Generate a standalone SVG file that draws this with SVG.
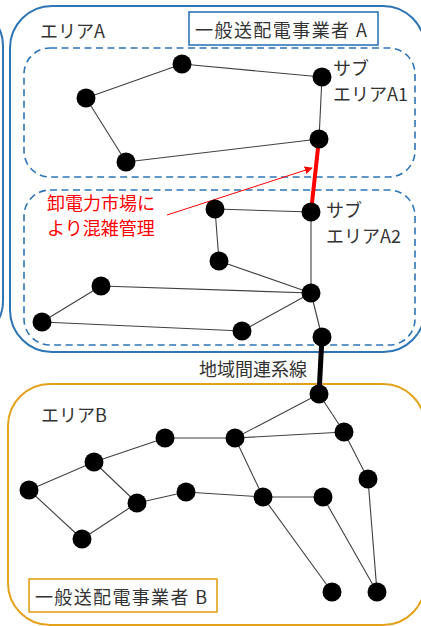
<svg xmlns="http://www.w3.org/2000/svg" width="421" height="626" viewBox="0 0 421 626">
<style>
.area{fill:none;stroke:#2E75B6;stroke-width:2}
.sub{fill:none;stroke:#2E75B6;stroke-width:1.6;stroke-dasharray:7 4.5}
.areaB{fill:none;stroke:#E3A21A;stroke-width:2}
.e{stroke:#404040;stroke-width:1.1;fill:none}
.n{fill:#000}
.t{font-family:"Noto Sans CJK JP","Noto Sans",sans-serif;font-size:18px;fill:#333}
.r{font-family:"Noto Sans CJK JP","Noto Sans",sans-serif;font-size:18px;fill:#FF0000}
</style>
<defs>
<marker id="ah" viewBox="0 0 10 10" refX="9" refY="5" markerWidth="8" markerHeight="8" markerUnits="userSpaceOnUse" orient="auto">
<path d="M0,0 L10,5 L0,10 z" fill="#FF0000"/>
</marker>
</defs>
<g id="areaLeft"><rect x="-300" y="6" width="303" height="335" rx="40" class="area"/></g>
<g id="areaA">
<rect x="10" y="6" width="415" height="346" rx="42" class="area"/>
<text x="40" y="38" class="t">エリアA</text>
</g>
<g id="operatorA">
<rect x="189" y="12" width="189" height="33" fill="#fff" stroke="#2E75B6" stroke-width="1.6"/>
<text x="195" y="37" class="t" font-size="19" textLength="172" lengthAdjust="spacing">一般送配電事業者 A</text>
</g>
<g id="subA1">
<rect x="24" y="48" width="391" height="129" rx="26" class="sub"/>
<text x="333" y="75" class="t">サブ</text>
<text x="333" y="101" class="t">エリアA1</text>
</g>
<g id="subA2">
<rect x="24" y="190" width="391" height="155" rx="26" class="sub"/>
<text x="326" y="217" class="t">サブ</text>
<text x="326" y="243" class="t">エリアA2</text>
</g>
<g id="areaB">
<rect x="8" y="384" width="417" height="241" rx="42" class="areaB"/>
<text x="41" y="422" class="t">エリアB</text>
</g>
<g id="operatorB">
<rect x="29" y="579" width="188" height="33" fill="#fff" stroke="#E3A21A" stroke-width="1.6"/>
<text x="35" y="604" class="t" font-size="19" textLength="172" lengthAdjust="spacing">一般送配電事業者 B</text>
</g>
<g id="connectors">
<!-- A1 -->
<line x1="86" y1="98" x2="182" y2="64" class="e"/>
<line x1="182" y1="64" x2="322" y2="77" class="e"/>
<line x1="322" y1="77" x2="319" y2="139" class="e"/>
<line x1="319" y1="139" x2="126" y2="162" class="e"/>
<line x1="126" y1="162" x2="86" y2="98" class="e"/>
<!-- A2 -->
<line x1="215" y1="209" x2="311" y2="212" class="e"/>
<line x1="215" y1="209" x2="219" y2="261" class="e"/>
<line x1="219" y1="261" x2="311" y2="293" class="e"/>
<line x1="311" y1="212" x2="311" y2="293" class="e"/>
<line x1="101" y1="286" x2="311" y2="293" class="e"/>
<line x1="101" y1="286" x2="42" y2="322" class="e"/>
<line x1="42" y1="322" x2="242" y2="331" class="e"/>
<line x1="242" y1="331" x2="311" y2="293" class="e"/>
<line x1="311" y1="293" x2="322" y2="337" class="e"/>
<!-- B -->
<line x1="319" y1="394" x2="235" y2="438" class="e"/>
<line x1="319" y1="394" x2="344" y2="432" class="e"/>
<line x1="344" y1="432" x2="235" y2="438" class="e"/>
<line x1="344" y1="432" x2="368" y2="479" class="e"/>
<line x1="368" y1="479" x2="377" y2="592" class="e"/>
<line x1="235" y1="438" x2="165" y2="438" class="e"/>
<line x1="235" y1="438" x2="263" y2="497" class="e"/>
<line x1="165" y1="438" x2="94" y2="462" class="e"/>
<line x1="94" y1="462" x2="29" y2="490" class="e"/>
<line x1="94" y1="462" x2="137" y2="503" class="e"/>
<line x1="29" y1="490" x2="82" y2="539" class="e"/>
<line x1="82" y1="539" x2="137" y2="503" class="e"/>
<line x1="137" y1="503" x2="186" y2="492" class="e"/>
<line x1="186" y1="492" x2="263" y2="497" class="e"/>
<line x1="263" y1="497" x2="323" y2="497" class="e"/>
<line x1="263" y1="497" x2="332" y2="592" class="e"/>
<line x1="323" y1="497" x2="377" y2="592" class="e"/>
<!-- congested line and tie line -->
<line x1="319" y1="139" x2="311" y2="212" stroke="#FF0000" stroke-width="4"/>
<line x1="322" y1="337" x2="319" y2="394" stroke="#000" stroke-width="5"/>
<line x1="167" y1="215" x2="312" y2="168" stroke="#FF0000" stroke-width="1" marker-end="url(#ah)"/>
</g>
<g id="nodes">
<circle cx="182" cy="64" r="9.5" class="n"/>
<circle cx="322" cy="77" r="9.5" class="n"/>
<circle cx="86" cy="98" r="9.5" class="n"/>
<circle cx="126" cy="162" r="9.5" class="n"/>
<circle cx="319" cy="139" r="9.5" class="n"/>
<circle cx="215" cy="209" r="9.5" class="n"/>
<circle cx="311" cy="212" r="9.5" class="n"/>
<circle cx="219" cy="261" r="9.5" class="n"/>
<circle cx="101" cy="286" r="9.5" class="n"/>
<circle cx="311" cy="293" r="9.5" class="n"/>
<circle cx="42" cy="322" r="9.5" class="n"/>
<circle cx="242" cy="331" r="9.5" class="n"/>
<circle cx="322" cy="337" r="9.5" class="n"/>
<circle cx="319" cy="394" r="9.5" class="n"/>
<circle cx="344" cy="432" r="9.5" class="n"/>
<circle cx="235" cy="438" r="9.5" class="n"/>
<circle cx="165" cy="438" r="9.5" class="n"/>
<circle cx="94" cy="462" r="9.5" class="n"/>
<circle cx="29" cy="490" r="9.5" class="n"/>
<circle cx="368" cy="479" r="9.5" class="n"/>
<circle cx="186" cy="492" r="9.5" class="n"/>
<circle cx="137" cy="503" r="9.5" class="n"/>
<circle cx="263" cy="497" r="9.5" class="n"/>
<circle cx="323" cy="497" r="9.5" class="n"/>
<circle cx="82" cy="539" r="9.5" class="n"/>
<circle cx="332" cy="592" r="9.5" class="n"/>
<circle cx="377" cy="592" r="9.5" class="n"/>
</g>
<g id="labels">
<text x="47" y="210" class="r">卸電力市場に</text>
<text x="47" y="235" class="r">より混雑管理</text>
<text x="199" y="376" class="t">地域間連系線</text>
</g>
</svg>
